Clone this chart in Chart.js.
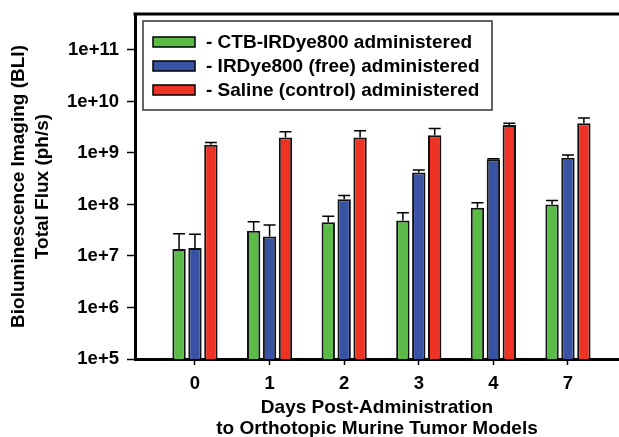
<!DOCTYPE html>
<html>
<head>
<meta charset="utf-8">
<script src="https://cdn.jsdelivr.net/npm/chart.js@4.4.1/dist/chart.umd.min.js"></script>
<style>
  html, body { margin: 0; padding: 0; background: #fff; overflow: hidden; }
  #wrap { width: 619px; height: 437px; }
</style>
</head>
<body>
<div id="wrap"><canvas id="fluxChart"></canvas></div>
<script>
// days after administration (x categories)
const days = ['0', '1', '2', '3', '4', '7'];

// total flux (ph/s), mean and upper error
const ctbFlux = [1.36e7, 3.1e7, 4.5e7, 4.9e7, 8.6e7, 1.0e8];
const ctbErr = [1.34e7, 1.5e7, 1.4e7, 2.0e7, 2.2e7, 2.0e7];
const freeFlux = [1.43e7, 2.4e7, 1.26e8, 4.2e8, 7.6e8, 8.1e8];
const freeErr = [1.2e7, 1.6e7, 2.4e7, 5e7, 1e7, 1e8];
const salineFlux = [1.45e9, 2.0e9, 2.0e9, 2.2e9, 3.5e9, 3.8e9];
const salineErr = [1.5e8, 6e8, 7e8, 8e8, 3e8, 1e9];

const yTicks = [1e5, 1e6, 1e7, 1e8, 1e9, 1e10, 1e11];

const fontFamily = '"Liberation Sans", Arial, sans-serif';
const tickFont = { family: fontFamily, size: 18.5, weight: 'bold' };

const toPoints = (arr) => arr.map((v, i) => ({ x: i, y: v }));

// error bars on top of each bar
const errorBars = {
  id: 'errorBars',
  afterDatasetsDraw(chart) {
    const ctx = chart.ctx;
    const yScale = chart.scales.y;
    ctx.save();
    ctx.strokeStyle = '#000';
    ctx.lineWidth = 1.5;
    chart.data.datasets.forEach((ds, i) => {
      const meta = chart.getDatasetMeta(i);
      meta.data.forEach((bar, j) => {
        const top = yScale.getPixelForValue(ds.data[j].y + ds.errors[j]);
        ctx.beginPath();
        ctx.moveTo(bar.x, bar.y);
        ctx.lineTo(bar.x, top);
        ctx.moveTo(bar.x - 6, top);
        ctx.lineTo(bar.x + 6, top);
        ctx.stroke();
      });
    });
    ctx.restore();
  }
};

// top frame line + boxed legend inside the plot
const frameAndLegend = {
  id: 'frameAndLegend',
  afterDraw(chart) {
    const ctx = chart.ctx;
    const area = chart.chartArea;
    ctx.save();
    ctx.strokeStyle = '#000';
    ctx.lineWidth = 3;
    ctx.beginPath();
    ctx.moveTo(area.left - 1.5, area.top);
    ctx.lineTo(area.right, area.top);
    ctx.stroke();

    const left = area.left + 8;
    const top = area.top + 7;
    ctx.fillStyle = '#fff';
    ctx.fillRect(left, top, 349, 89);
    ctx.strokeStyle = '#333';
    ctx.lineWidth = 1.5;
    ctx.strokeRect(left, top, 349, 89);

    ctx.font = 'bold 19px ' + fontFamily;
    ctx.textBaseline = 'middle';
    chart.data.datasets.forEach((ds, i) => {
      const cy = top + 21 + i * 24;
      ctx.fillStyle = ds.backgroundColor;
      ctx.fillRect(left + 10, cy - 5, 42, 10);
      ctx.strokeStyle = '#000';
      ctx.lineWidth = 1.5;
      ctx.strokeRect(left + 10, cy - 5, 42, 10);
      ctx.fillStyle = '#000';
      ctx.fillText('- ' + ds.label, left + 63, cy + 1);
    });
    ctx.restore();
  }
};

const fluxChart = new Chart(document.getElementById('fluxChart'), {
  type: 'bar',
  data: {
    datasets: [
      {
        label: 'CTB-IRDye800 administered',
        data: toPoints(ctbFlux),
        errors: ctbErr,
        backgroundColor: '#5bbb47'
      },
      {
        label: 'IRDye800 (free) administered',
        data: toPoints(freeFlux),
        errors: freeErr,
        backgroundColor: '#3953a4'
      },
      {
        label: 'Saline (control) administered',
        data: toPoints(salineFlux),
        errors: salineErr,
        backgroundColor: '#ee3224'
      }
    ]
  },
  options: {
    responsive: true,
    maintainAspectRatio: false,
    animation: false,
    layout: { padding: { top: 14, left: 0, right: 0, bottom: -2 } },
    datasets: {
      bar: {
        borderColor: '#111',
        borderWidth: 2,
        categoryPercentage: 0.64,
        barPercentage: 0.84
      }
    },
    plugins: {
      legend: { display: false },
      tooltip: { enabled: false }
    },
    scales: {
      x: {
        type: 'linear',
        min: -0.804,
        max: 5.684,
        offset: false,
        afterBuildTicks: (s) => { s.ticks = days.map((d, i) => ({ value: i })); },
        afterFit: (s) => { s.height = 80; s.paddingLeft = 0; s.paddingRight = 0; },
        border: { color: '#000', width: 3 },
        grid: { drawOnChartArea: false, offset: false, color: '#000', tickLength: 6, tickWidth: 1.5 },
        ticks: {
          color: '#000',
          padding: 8,
          font: tickFont,
          maxRotation: 0,
          autoSkip: false,
          callback: (v) => days[v]
        },
        title: {
          display: true,
          text: ['Days Post-Administration', 'to Orthotopic Murine Tumor Models'],
          color: '#000',
          font: { family: fontFamily, size: 19, weight: 'bold', lineHeight: 1.1 },
          padding: { top: 0, bottom: 0 }
        }
      },
      y: {
        type: 'logarithmic',
        min: 1e5,
        max: 5e11,
        afterBuildTicks: (s) => { s.ticks = yTicks.map((v) => ({ value: v })); },
        afterFit: (s) => { s.width = 135; s.paddingTop = 0; s.paddingBottom = 0; },
        border: { color: '#000', width: 3 },
        grid: { drawOnChartArea: false, color: '#000', tickLength: 8, tickWidth: 1.5 },
        ticks: {
          color: '#000',
          padding: 8,
          font: tickFont,
          callback: (v) => '1e+' + Math.round(Math.log10(v))
        },
        title: {
          display: true,
          text: ['Bioluminescence Imaging (BLI)', 'Total Flux (ph/s)'],
          color: '#000',
          font: { family: fontFamily, size: 19, weight: 'bold', lineHeight: 1.3 },
          padding: { top: 6, bottom: 0 }
        }
      }
    }
  },
  plugins: [errorBars, frameAndLegend]
});
</script>
</body>
</html>
